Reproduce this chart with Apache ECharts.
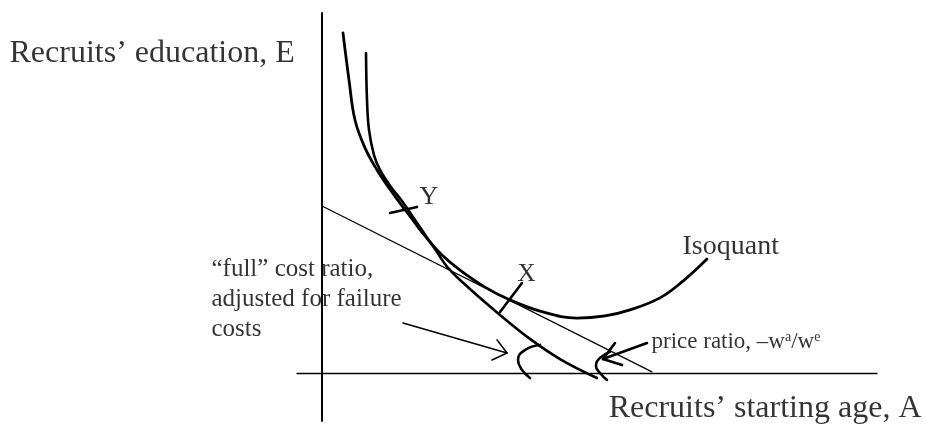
<!DOCTYPE html>
<html><head><meta charset="utf-8">
<script src="https://cdn.jsdelivr.net/npm/echarts@6/dist/echarts.min.js"></script>
<style>html,body{margin:0;padding:0;background:#fff}#c{width:927px;height:435px}</style>
</head><body><div id="c"></div>
<script>
// Schematic units: A (starting age) on x, E (education) on y. Origin at the axes crossing.
const isoquant = [[0.84,14.17],[1.08,12.21],[1.32,10.54],[1.72,9.38],[2.2,8.46],[2.68,7.71],[3.12,7.08],[3.6,6.42],[4.12,5.71],[4.8,4.92],[5.52,4.29],[6.52,3.58],[7.44,3.08],[8.72,2.58],[10.2,2.29],[11.32,2.38],[12.32,2.63],[13.52,3.13],[14.44,3.83],[15.4,4.75]];
const fullCost = [[1.76,13.33],[1.8,11.38],[1.88,10.13],[2.08,9.08],[2.32,8.46],[2.76,7.75],[3.2,7.17],[3.64,6.5],[4.16,5.71],[4.6,5.04],[5.04,4.38],[5.92,3.5],[7.12,2.42],[8.32,1.42],[9.52,0.58],[11.0,-0.21]];
const priceLine = [[0,6.96],[13.2,0.05]];
const tickY = [[2.72,6.67],[3.8,6.92]];
const tickX = [[7.12,2.54],[8.0,3.75]];
const arrowFullShaft = [[3.24,2.08],[7.4,0.83]];
const arrowFullHead = [[7.0,1.38],[7.4,0.83],[6.8,0.54]];
const arcFull = [[8.72,1.17],[8.12,0.96],[7.84,0.54],[8.0,0.13],[8.32,-0.21]];
const arrowPriceShaft = [[13.0,1.25],[11.24,0.58]];
const arrowPriceHead = [[11.72,1.25],[11.24,0.58],[12.0,0.33]];
const arcPrice = [[11.52,0.88],[11.12,0.63],[10.96,0.29],[11.12,0],[11.4,-0.29]];

const labelTexts = ['Recruits’ education, E', 'Recruits’ starting age, A', 'Isoquant', 'Y', 'X', '“full” cost ratio,\nadjusted for failure\ncosts', 'price ratio, –w{s|a}/w{s|e}'];
const labelPoints = [[-12.48,13.29],[24.0,-1.5],[14.44,5.23],[3.92,7.29],[7.84,4.10],[-4.4,4.94],[13.2,1.29]];

const axisRange = {xMin:-1, xMax:22.2, yMin:-2, yMax:15};

const FONT = '"Liberation Serif", "Times New Roman", serif';
function lineS(data, width, smooth){
  return {type:'line', data:data, symbol:'none', showSymbol:false, smooth:smooth||false, clip:false, silent:true,
    lineStyle:{color:'#000', width:width, cap:'round', join:'round'}, animation:false, z:3};
}
function textS(i, size, extra){
  const lbl = Object.assign({show:true, position:[0,0], align:'left', verticalAlign:'middle', color:'#000',
    fontFamily:FONT, fontSize:size, formatter:labelTexts[i]}, extra||{});
  return {type:'scatter', data:[labelPoints[i]], symbolSize:1, itemStyle:{color:'rgba(0,0,0,0)'}, clip:false, silent:true,
    animation:false, label:lbl, z:4};
}
const chart = echarts.init(document.getElementById('c'), null, {renderer:'canvas'});
chart.setOption({
  animation:false,
  backgroundColor:'#fff',
  grid:{left:297, right:50, top:13, bottom:14},
  xAxis:{type:'value', min:axisRange.xMin, max:axisRange.xMax, axisLine:{onZero:true, lineStyle:{color:'#000', width:1.3}},
    axisTick:{show:false}, axisLabel:{show:false}, splitLine:{show:false}},
  yAxis:{type:'value', min:axisRange.yMin, max:axisRange.yMax, axisLine:{onZero:true, lineStyle:{color:'#000', width:2}},
    axisTick:{show:false}, axisLabel:{show:false}, splitLine:{show:false}},
  series:[
    lineS(priceLine, 1.3),
    lineS(isoquant, 2.8, 0.4),
    lineS(fullCost, 2.6, 0.4),
    lineS(tickY, 2.6),
    lineS(tickX, 2.6),
    lineS(arrowFullShaft, 1.6),
    lineS(arrowFullHead, 1.6),
    lineS(arcFull, 2.6, 0.5),
    lineS(arrowPriceShaft, 2.6),
    lineS(arrowPriceHead, 2.6),
    lineS(arcPrice, 2.6, 0.5),
    textS(0, 32),
    textS(1, 32, {align:'right'}),
    textS(2, 28),
    textS(3, 26),
    textS(4, 25),
    textS(5, 25, {verticalAlign:'top', lineHeight:30}),
    textS(6, 23, {rich:{s:{fontFamily:FONT, fontSize:14, color:'#000', lineHeight:14, verticalAlign:'top'}}})
  ]
});
</script></body></html>
